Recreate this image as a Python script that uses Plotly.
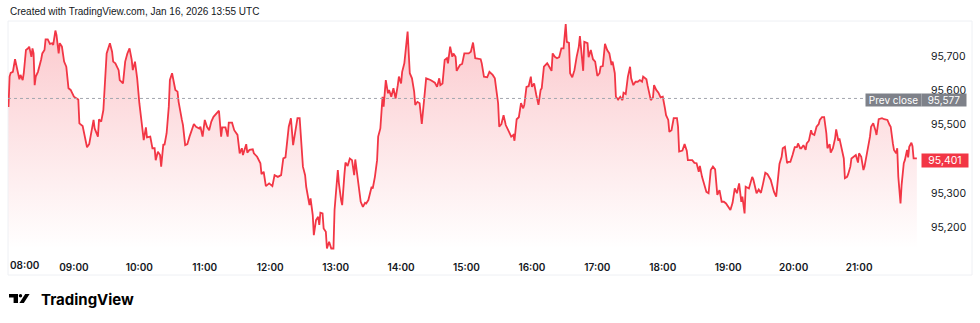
import datetime as dt
import plotly.graph_objects as go

# ---------------- data ----------------
session_start = "2026-01-16 08:00"
minutes = [
    0, 1, 2, 4, 6, 8, 10, 11, 13, 14,
    16, 18, 19, 21, 22, 23, 24, 25, 27, 30,
    31, 33, 34, 36, 38, 40, 41, 43, 44, 46,
    47, 49, 51, 53, 55, 57, 60, 64, 65, 68,
    70, 72, 74, 76, 78, 79, 82, 83, 85, 87,
    89, 90, 93, 95, 96, 98, 101, 102, 105, 107,
    109, 111, 113, 114, 116, 118, 120, 122, 124, 126,
    127, 130, 132, 134, 135, 137, 139, 140, 142, 143,
    145, 147, 148, 150, 151, 153, 155, 156, 159, 160,
    162, 164, 166, 168, 170, 172, 175, 176, 178, 180,
    182, 184, 186, 188, 190, 193, 195, 196, 199, 201,
    202, 205, 207, 210, 212, 214, 215, 218, 219, 221,
    224, 225, 228, 231, 232, 234, 236, 239, 242, 244,
    247, 250, 252, 254, 257, 259, 261, 263, 265, 267,
    269, 270, 272, 273, 276, 277, 279, 280, 282, 284,
    285, 286, 288, 289, 291, 292, 294, 296, 298, 299,
    302, 303, 305, 306, 308, 309, 311, 313, 315, 317,
    318, 320, 321, 323, 325, 327, 328, 330, 333, 334,
    336, 338, 339, 341, 343, 344, 346, 348, 349, 351,
    353, 355, 357, 358, 360, 361, 363, 365, 366, 368,
    370, 372, 373, 375, 377, 379, 382, 383, 387, 391,
    393, 395, 396, 398, 400, 402, 403, 405, 407, 408,
    410, 411, 414, 416, 418, 422, 424, 426, 428, 433,
    434, 436, 439, 441, 444, 446, 447, 449, 450, 452,
    454, 456, 459, 461, 463, 464, 466, 468, 470, 472,
    473, 475, 477, 479, 480, 482, 484, 486, 488, 489,
    491, 494, 495, 498, 499, 501, 503, 505, 507, 509,
    511, 512, 514, 515, 517, 519, 521, 523, 524, 526,
    527, 528, 531, 532, 534, 536, 538, 540, 542, 543,
    545, 547, 549, 551, 553, 554, 556, 557, 559, 561,
    563, 564, 566, 568, 570, 571, 573, 575, 577, 579,
    581, 582, 585, 586, 588, 589, 591, 592, 594, 596,
    598, 600, 602, 603, 605, 606, 608, 610, 613, 614,
    615, 618, 620, 622, 623, 627, 629, 631, 633, 634,
    636, 638, 640, 642, 644, 646, 648, 650, 652, 654,
    656, 658, 660, 662, 664, 666, 668, 670, 672, 673,
    675, 676, 679, 680, 682, 683, 685, 686, 688, 690,
    692, 694, 696, 699, 700, 702, 704, 706, 707, 709,
    710, 712, 714, 715, 717, 719, 721, 723, 724, 726,
    727, 729, 731, 732, 734, 736, 737, 739, 741, 743,
    744, 746, 748, 750, 751, 753, 754, 756, 758, 759,
    761, 762, 764, 766, 767, 769, 770, 772, 773, 775,
    777, 779, 780, 782, 784, 785, 787, 788, 790, 791,
    793, 795, 796, 798, 801, 803, 805, 806, 808, 809,
    811, 812, 814, 815, 816, 818, 819, 821, 822, 824,
    825, 826, 828, 829, 830, 833,
]
prices = [
    95552, 95641, 95652, 95655, 95692, 95660, 95633, 95646, 95631, 95651,
    95719, 95724, 95729, 95699, 95724, 95709, 95616, 95641, 95655, 95692,
    95709, 95719, 95750, 95750, 95737, 95739, 95734, 95776, 95763, 95709,
    95739, 95729, 95685, 95670, 95607, 95602, 95582, 95574, 95504, 95496,
    95465, 95434, 95443, 95484, 95514, 95489, 95465, 95516, 95509, 95543,
    95641, 95709, 95739, 95714, 95685, 95680, 95660, 95631, 95621, 95685,
    95709, 95724, 95690, 95660, 95685, 95636, 95563, 95514, 95455, 95492,
    95463, 95465, 95431, 95431, 95396, 95421, 95411, 95377, 95443, 95440,
    95475, 95553, 95631, 95651, 95631, 95602, 95597, 95567, 95514, 95499,
    95440, 95443, 95465, 95484, 95502, 95494, 95489, 95494, 95465, 95514,
    95494, 95484, 95509, 95523, 95531, 95541, 95465, 95492, 95492, 95465,
    95506, 95506, 95484, 95470, 95416, 95431, 95411, 95443, 95418, 95426,
    95428, 95416, 95406, 95387, 95355, 95362, 95320, 95328, 95320, 95352,
    95347, 95352, 95401, 95404, 95494, 95519, 95440, 95484, 95519, 95519,
    95406, 95377, 95352, 95318, 95264, 95284, 95235, 95176, 95220, 95230,
    95206, 95242, 95240, 95196, 95186, 95137, 95157, 95137, 95137, 95250,
    95367, 95328, 95279, 95264, 95352, 95389, 95379, 95401, 95396, 95352,
    95398, 95352, 95318, 95274, 95259, 95271, 95269, 95279, 95318, 95313,
    95347, 95396, 95465, 95489, 95582, 95553, 95631, 95592, 95602, 95582,
    95607, 95577, 95616, 95641, 95621, 95655, 95680, 95748, 95773, 95651,
    95636, 95597, 95558, 95567, 95563, 95502, 95621, 95636, 95631, 95623,
    95611, 95636, 95616, 95621, 95690, 95695, 95680, 95729, 95699, 95709,
    95699, 95658, 95675, 95678, 95709, 95709, 95714, 95741, 95695, 95692,
    95680, 95641, 95639, 95655, 95646, 95636, 95611, 95563, 95494, 95502,
    95528, 95499, 95479, 95465, 95470, 95453, 95516, 95522, 95563, 95548,
    95558, 95611, 95613, 95641, 95611, 95621, 95587, 95558, 95602, 95607,
    95670, 95680, 95675, 95658, 95709, 95699, 95695, 95698, 95724, 95724,
    95795, 95743, 95740, 95651, 95639, 95660, 95699, 95729, 95760, 95704,
    95658, 95743, 95739, 95698, 95719, 95692, 95685, 95643, 95651, 95670,
    95672, 95737, 95719, 95709, 95675, 95685, 95651, 95582, 95574, 95582,
    95572, 95594, 95590, 95641, 95670, 95636, 95616, 95626, 95626, 95631,
    95626, 95641, 95633, 95616, 95587, 95572, 95580, 95616, 95602, 95594,
    95580, 95582, 95548, 95528, 95514, 95479, 95484, 95519, 95519, 95494,
    95421, 95424, 95443, 95424, 95396, 95396, 95388, 95387, 95362, 95379,
    95347, 95323, 95303, 95299, 95367, 95377, 95369, 95294, 95308, 95274,
    95274, 95269, 95258, 95250, 95271, 95313, 95299, 95328, 95274, 95289,
    95240, 95318, 95313, 95323, 95347, 95340, 95313, 95299, 95310, 95300,
    95328, 95359, 95355, 95338, 95326, 95303, 95289, 95367, 95385, 95406,
    95431, 95435, 95387, 95391, 95391, 95411, 95434, 95434, 95445, 95431,
    95431, 95440, 95426, 95445, 95453, 95484, 95473, 95470, 95494, 95502,
    95514, 95522, 95522, 95475, 95431, 95443, 95418, 95431, 95460, 95486,
    95453, 95460, 95426, 95401, 95343, 95347, 95355, 95377, 95401, 95406,
    95411, 95389, 95416, 95406, 95367, 95377, 95411, 95431, 95465, 95494,
    95504, 95484, 95470, 95516, 95519, 95516, 95514, 95514, 95499, 95494,
    95445, 95426, 95416, 95431, 95347, 95269, 95323, 95387, 95396, 95426,
    95404, 95435, 95447, 95437, 95401, 95401,
]
prev_close = 95577
last_price = prices[-1]
price_ticks = [95200, 95300, 95500, 95600, 95700]  # 95,400 sits under the last-price tag
hour_ticks = [9, 10, 11, 12, 13, 14, 15, 16, 17, 18, 19, 20, 21]
first_hour_label = "08:00"
header_text = "Created with TradingView.com, Jan 16, 2026 13:55 UTC"
brand_text = "TradingView"

# ---------------- build ----------------
base = dt.datetime.strptime(session_start, "%Y-%m-%d %H:%M")
times = [base + dt.timedelta(minutes=m) for m in minutes]
tick_times = [base.replace(hour=h) for h in hour_ticks]

W, H = 980, 323
L, R, T, B = 8, 921, 21, 255
PX_PER_HOUR = 65.5
PX_PER_UNIT = 0.341
Y_TOP = 95700 + (56.5 - T) / PX_PER_UNIT
Y_BOT = 95700 - (B - 56.5) / PX_PER_UNIT


def pxx(px):
    return (px - L) / (R - L)


def pxy(py):
    return (B - py) / (B - T)


x0 = base - dt.timedelta(minutes=0.5 / PX_PER_HOUR * 60)
x1 = base + dt.timedelta(minutes=(R - 7.5) / PX_PER_HOUR * 60)

RED = "#F23645"
TXT = "#131722"
FONT = "Inter, Roboto, 'Liberation Sans', sans-serif"
HFONT = "'Liberation Sans', Arial, sans-serif"

fig = go.Figure()
fig.add_trace(go.Scatter(
    x=times, y=prices, mode="lines",
    line=dict(color=RED, width=1.8),
    fill="tozeroy",
    fillgradient=dict(
        type="vertical",
        start=Y_BOT + 20, stop=max(prices),
        colorscale=[[0, "rgba(242,54,69,0.0)"], [1, "rgba(242,54,69,0.27)"]],
    ),
    hoverinfo="skip", showlegend=False,
))

shapes = []
shapes.append(dict(type="rect", xref="paper", yref="paper",
                   x0=pxx(8), x1=pxx(972), y0=pxy(275), y1=pxy(21),
                   line=dict(color="#eef0f4", width=1), fillcolor="rgba(0,0,0,0)", layer="below"))
shapes.append(dict(type="line", xref="paper", yref="y",
                   x0=0, x1=pxx(865), y0=prev_close, y1=prev_close,
                   line=dict(color="#a3a6af", width=1, dash="dot"), layer="above"))


def path(points):
    return "M " + " L ".join(f"{pxx(a):.5f},{pxy(b):.5f}" for a, b in points) + " Z"


shapes.append(dict(type="path", xref="paper", yref="paper",
                   path=path([(9, 294), (18, 294), (18, 303), (13.6, 303), (13.6, 297.4), (9, 297.4)]),
                   fillcolor="#000000", line=dict(width=0)))
shapes.append(dict(type="circle", xref="paper", yref="paper",
                   x0=pxx(18.8), x1=pxx(22.2), y0=pxy(297.6), y1=pxy(294),
                   fillcolor="#000000", line=dict(width=0)))
shapes.append(dict(type="path", xref="paper", yref="paper",
                   path=path([(19.4, 303), (23.8, 303), (29.6, 294), (25.2, 294)]),
                   fillcolor="#000000", line=dict(width=0)))

annotations = []
annotations.append(dict(text=header_text, xref="paper", yref="paper",
                        x=pxx(8), y=pxy(11.5), xanchor="left", yanchor="middle",
                        showarrow=False, font=dict(family=HFONT, size=10, color=TXT)))
annotations.append(dict(text=first_hour_label, xref="paper", yref="paper",
                        x=pxx(8), y=pxy(265), xanchor="left", yanchor="middle",
                        showarrow=False, font=dict(family=FONT, size=10, color=TXT, weight=600)))
annotations.append(dict(text=f"<b>{brand_text}</b>", xref="paper", yref="paper",
                        x=pxx(39), y=pxy(299), xanchor="left", yanchor="middle",
                        showarrow=False, font=dict(family=FONT, size=15, color="#000000")))
annotations.append(dict(text="Prev close", xref="paper", yref="paper",
                        x=pxx(865), y=pxy(100.3), xanchor="left", yanchor="middle",
                        width=55, height=12, borderpad=0, bgcolor="#7e8189",
                        showarrow=False, font=dict(family=FONT, size=10, color="#ffffff")))
annotations.append(dict(text=f"{prev_close:,}", xref="paper", yref="paper",
                        x=pxx(921.5), y=pxy(100.3), xanchor="left", yanchor="middle",
                        width=44, height=12, borderpad=0, bgcolor="#7e8189",
                        showarrow=False, font=dict(family=FONT, size=10, color="#ffffff")))
annotations.append(dict(text=f"{last_price:,}", xref="paper", yref="paper",
                        x=pxx(921.5), y=pxy(160), xanchor="left", yanchor="middle",
                        width=46, height=13, borderpad=0, bgcolor=RED,
                        showarrow=False, font=dict(family=FONT, size=10.5, color="#ffffff")))

fig.update_layout(
    width=W, height=H,
    margin=dict(l=L, r=W - R, t=T, b=H - B, pad=0),
    paper_bgcolor="#ffffff", plot_bgcolor="#ffffff",
    shapes=shapes, annotations=annotations,
    xaxis=dict(type="date", range=[x0, x1], tickvals=tick_times, tickformat="%H:%M",
               showgrid=False, zeroline=False, showline=False, ticks="",
               ticklabelstandoff=5,
               tickfont=dict(family=FONT, size=10, color=TXT, weight=600), fixedrange=True),
    yaxis=dict(side="right", range=[Y_BOT, Y_TOP], tickvals=price_ticks, tickformat=",d",
               showgrid=False, zeroline=False, showline=False, ticks="",
               ticklabelstandoff=9,
               tickfont=dict(family=FONT, size=10.5, color=TXT), fixedrange=True),
    showlegend=False,
)

fig.write_html("out.html")
